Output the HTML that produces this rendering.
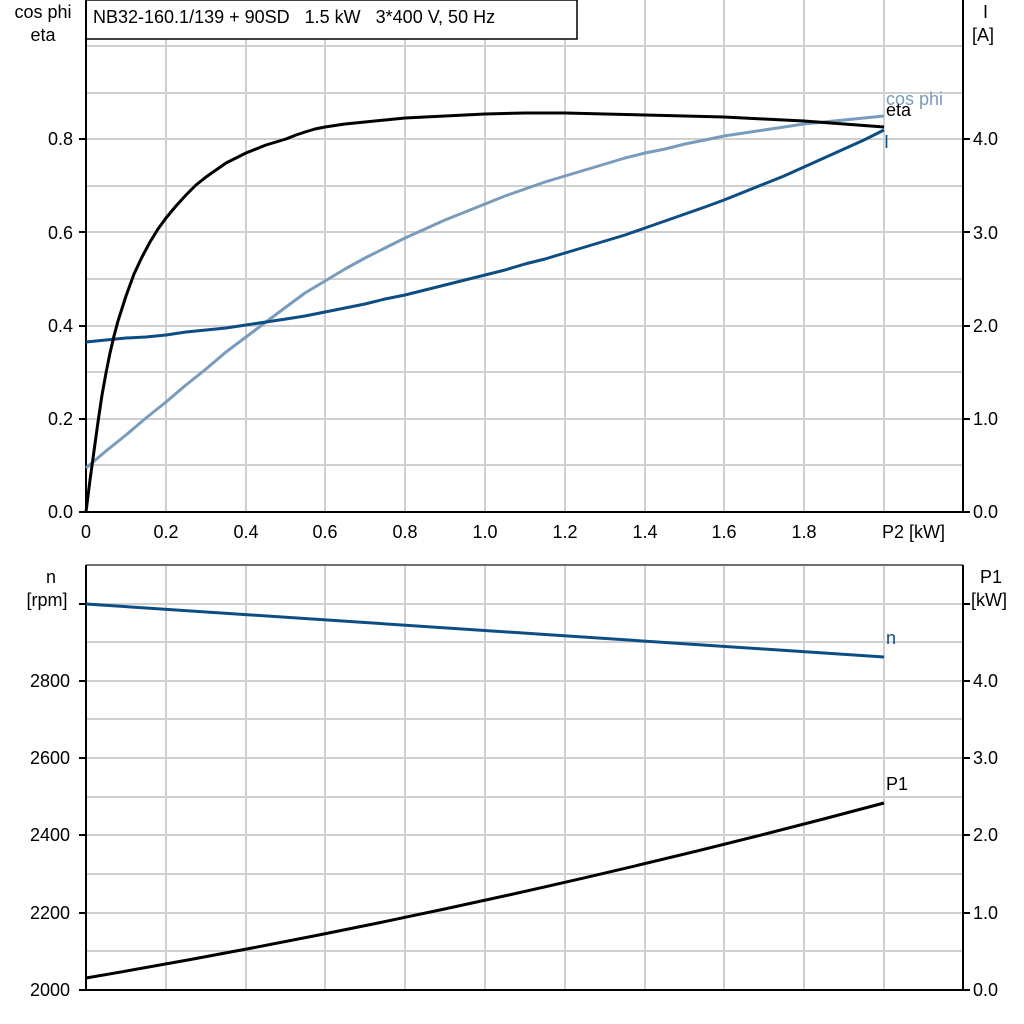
<!DOCTYPE html>
<html><head><meta charset="utf-8"><style>
html,body{margin:0;padding:0;background:#fff}
svg{display:block}
text{font-family:"Liberation Sans",Arial,sans-serif;font-size:18px;fill:#000;white-space:pre}
</style></head><body>
<svg width="1024" height="1024" viewBox="0 0 1024 1024" xmlns="http://www.w3.org/2000/svg" xml:space="preserve">
<rect width="1024" height="1024" fill="#fff"/>
<g stroke="#d0d0d0" stroke-width="2">
<line x1="86" y1="46" x2="963" y2="46"/><line x1="86" y1="93" x2="963" y2="93"/>
<line x1="86" y1="139" x2="963" y2="139"/><line x1="86" y1="186" x2="963" y2="186"/>
<line x1="86" y1="232" x2="963" y2="232"/><line x1="86" y1="279" x2="963" y2="279"/>
<line x1="86" y1="326" x2="963" y2="326"/><line x1="86" y1="372" x2="963" y2="372"/>
<line x1="86" y1="419" x2="963" y2="419"/><line x1="86" y1="465" x2="963" y2="465"/>
<line x1="166" y1="39" x2="166" y2="512"/><line x1="246" y1="39" x2="246" y2="512"/>
<line x1="325" y1="39" x2="325" y2="512"/><line x1="405" y1="39" x2="405" y2="512"/>
<line x1="485" y1="0" x2="485" y2="512"/><line x1="565" y1="0" x2="565" y2="512"/>
<line x1="645" y1="0" x2="645" y2="512"/><line x1="724" y1="0" x2="724" y2="512"/>
<line x1="804" y1="0" x2="804" y2="512"/><line x1="884" y1="0" x2="884" y2="512"/>
</g>
<g stroke="#d0d0d0" stroke-width="2">
<line x1="86" y1="604" x2="963" y2="604"/><line x1="86" y1="642" x2="963" y2="642"/>
<line x1="86" y1="681" x2="963" y2="681"/><line x1="86" y1="719" x2="963" y2="719"/>
<line x1="86" y1="758" x2="963" y2="758"/><line x1="86" y1="797" x2="963" y2="797"/>
<line x1="86" y1="835" x2="963" y2="835"/><line x1="86" y1="874" x2="963" y2="874"/>
<line x1="86" y1="913" x2="963" y2="913"/><line x1="86" y1="951" x2="963" y2="951"/>
<line x1="166" y1="565" x2="166" y2="990"/><line x1="246" y1="565" x2="246" y2="990"/>
<line x1="325" y1="565" x2="325" y2="990"/><line x1="405" y1="565" x2="405" y2="990"/>
<line x1="485" y1="565" x2="485" y2="990"/><line x1="565" y1="565" x2="565" y2="990"/>
<line x1="645" y1="565" x2="645" y2="990"/><line x1="724" y1="565" x2="724" y2="990"/>
<line x1="804" y1="565" x2="804" y2="990"/><line x1="884" y1="565" x2="884" y2="990"/>
</g>
<rect x="86" y="0" width="491" height="39" fill="#fff" stroke="#000" stroke-width="1.5"/>
<text x="93" y="23">NB32-160.1/139 + 90SD   1.5 kW   3*400 V, 50 Hz</text>
<g stroke="#000" stroke-width="2">
<line x1="86" y1="0" x2="86" y2="512"/><line x1="963" y1="0" x2="963" y2="512"/>
<line x1="86" y1="512" x2="963" y2="512"/>
<line x1="79" y1="139" x2="86" y2="139"/><line x1="79" y1="232" x2="86" y2="232"/>
<line x1="79" y1="326" x2="86" y2="326"/><line x1="79" y1="419" x2="86" y2="419"/>
<line x1="79" y1="512" x2="86" y2="512"/>
<line x1="963" y1="139" x2="970" y2="139"/><line x1="963" y1="232" x2="970" y2="232"/>
<line x1="963" y1="326" x2="970" y2="326"/><line x1="963" y1="419" x2="970" y2="419"/>
<line x1="963" y1="512" x2="970" y2="512"/>
</g>
<g text-anchor="end">
<text x="73" y="145">0.8</text><text x="73" y="239">0.6</text><text x="73" y="332">0.4</text>
<text x="73" y="425">0.2</text><text x="73" y="518">0.0</text>
</g>
<text x="43" y="18" text-anchor="middle">cos phi</text>
<text x="43" y="41" text-anchor="middle">eta</text>
<g>
<text x="973" y="145">4.0</text><text x="973" y="239">3.0</text><text x="973" y="332">2.0</text>
<text x="973" y="425">1.0</text><text x="973" y="518">0.0</text>
<text x="983" y="18">I</text><text x="972" y="41">[A]</text>
</g>
<g text-anchor="middle">
<text x="86" y="538">0</text><text x="166" y="538">0.2</text><text x="246" y="538">0.4</text>
<text x="325" y="538">0.6</text><text x="405" y="538">0.8</text><text x="485" y="538">1.0</text>
<text x="565" y="538">1.2</text><text x="645" y="538">1.4</text><text x="724" y="538">1.6</text>
<text x="804" y="538">1.8</text>
</g>
<text x="882" y="538">P2 [kW]</text>
<g fill="none" stroke-width="3" stroke-linejoin="round">
<polyline stroke="#7a9cbc" points="86,468 106,451 126,435 146,418 166,402 186,385 206,369 226,352 246,337 266,322 286,307 305,293 325,281 345,269 365,258 385,248 405,238 425,229 445,220 465,212 485,204 505,196 525,189 545,182 565,176 585,170 605,164 625,158 645,153 665,149 685,144 705,140 724,136 744,133 764,130 784,127 804,124 824,122 844,120 864,118 884,116"/>
<polyline stroke="#0e4c84" points="86,342 106,340 126,338 146,337 166,335 186,332 206,330 226,328 246,325 266,322 286,319 305,316 325,312 345,308 365,304 385,299 405,295 425,290 445,285 465,280 485,275 505,270 525,264 545,259 565,253 585,247 605,241 625,235 645,228 665,221 685,214 705,207 724,200 744,192 764,184 784,176 804,167 824,158 844,149 864,140 884,130"/>
<polyline stroke="#000" points="86,512 90,480 94,451 98,422 102,395 106,373 110,353 114,336 118,321 126,296 134,274 142,257 150,242 158,229 166,218 176,206 186,195 196,185 206,177 216,170 226,163 236,158 246,153 256,149 266,145 276,142 286,139 296,135 305,132 315,129 325,127 345,124 365,122 385,120 405,118 445,116 485,114 525,113 565,113 605,114 645,115 685,116 724,117 764,119 804,121 844,124 884,127"/>
</g>
<text x="886" y="105" style="fill:#7a9cbc">cos phi</text>
<text x="886" y="116">eta</text>
<text x="884" y="148" style="fill:#0e4c84">I</text>
<line x1="86" y1="565" x2="963" y2="565" stroke="#707070" stroke-width="2"/>
<g stroke="#000" stroke-width="2">
<line x1="86" y1="565" x2="86" y2="990"/><line x1="963" y1="565" x2="963" y2="990"/>
<line x1="86" y1="990" x2="963" y2="990"/>
<line x1="79" y1="604" x2="86" y2="604"/><line x1="79" y1="681" x2="86" y2="681"/>
<line x1="79" y1="758" x2="86" y2="758"/><line x1="79" y1="835" x2="86" y2="835"/>
<line x1="79" y1="913" x2="86" y2="913"/><line x1="79" y1="990" x2="86" y2="990"/>
<line x1="963" y1="604" x2="970" y2="604"/><line x1="963" y1="681" x2="970" y2="681"/>
<line x1="963" y1="758" x2="970" y2="758"/><line x1="963" y1="835" x2="970" y2="835"/>
<line x1="963" y1="913" x2="970" y2="913"/><line x1="963" y1="990" x2="970" y2="990"/>
</g>
<g text-anchor="end">
<text x="70" y="687">2800</text><text x="70" y="764">2600</text><text x="70" y="841">2400</text>
<text x="70" y="919">2200</text><text x="70" y="996">2000</text>
</g>
<text x="51" y="583" text-anchor="middle">n</text>
<text x="47" y="606" text-anchor="middle">[rpm]</text>
<g>
<text x="973" y="687">4.0</text><text x="973" y="764">3.0</text><text x="973" y="841">2.0</text>
<text x="973" y="919">1.0</text><text x="973" y="996">0.0</text>
<text x="980" y="583">P1</text><text x="971" y="606">[kW]</text>
</g>
<line x1="86" y1="604" x2="884" y2="657" stroke="#0e4c84" stroke-width="3"/>
<path d="M86,978 Q485,910 884,803" fill="none" stroke="#000" stroke-width="3"/>
<text x="886" y="644" style="fill:#0e4c84">n</text>
<text x="886" y="790">P1</text>
</svg>
</body></html>
